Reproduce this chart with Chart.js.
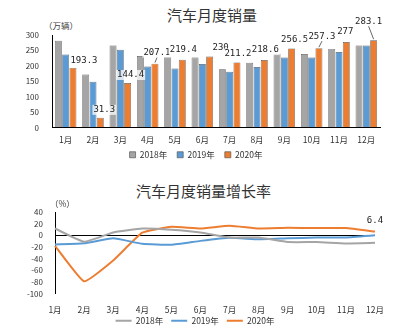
<!DOCTYPE html>
<html>
<head>
<meta charset="utf-8">
<script src="https://cdn.jsdelivr.net/npm/chart.js@4/dist/chart.umd.min.js"></script>
<style>
  html, body { margin: 0; padding: 0; background: #fff; }
  body { width: 397px; height: 335px; position: relative; overflow: hidden;
         font-family: 'Noto Sans CJK SC', sans-serif; color: #333; }
  .box { position: absolute; left: 0; width: 397px; }
  .txt { position: absolute; white-space: nowrap; }
  .title { font-size: 15px; line-height: 18px; }
  .unit { font-size: 8.5px; line-height: 12px; color: #404040; }
</style>
</head>
<body>
<div class="txt title" style="left:167px; top:6px;">汽车月度销量</div>
<div class="txt unit" style="left:44px; top:19px;">（万辆）</div>
<div class="box" style="top:0; height:169px;"><canvas id="sales-chart"></canvas></div>

<div class="txt title" style="left:136px; top:182px;">汽车月度销量增长率</div>
<div class="txt unit" style="left:50px; top:197px;">（%）</div>
<div class="box" style="top:168px; height:167px;"><canvas id="growth-chart"></canvas></div>

<script>
// --- データ ---
const months = ['1月', '2月', '3月', '4月', '5月', '6月', '7月', '8月', '9月', '10月', '11月', '12月'];
const years  = ['2018年', '2019年', '2020年'];

// 月度销量（万辆）
const sales2018 = [281, 172, 266, 232, 229, 227, 189, 210, 239, 238, 255, 266];
const sales2019 = [237, 148, 252, 198, 191, 206, 181, 196, 227, 227, 245, 266];
const sales2020 = [193.3, 31.3, 144.4, 207.1, 219.4, 230, 211.2, 218.6, 256.5, 257.3, 277, 283.1];

// 增长率（%）
const growth2018 = [11.6, -11.1, 4.7, 11.5, 9.6, 4.8, -4.0, -3.8, -11.6, -11.7, -13.9, -13.0];
const growth2019 = [-15.8, -13.8, -5.2, -14.6, -16.4, -9.6, -4.3, -6.9, -5.2, -4.0, -3.6, -0.1];
const growth2020 = [-18.0, -79.1, -43.3, 4.4, 14.5, 11.6, 16.4, 11.6, 12.8, 12.5, 12.6, 6.4];

const salesTicks  = { min: 0, max: 300, step: 50 };
const growthTicks = { min: -100, max: 40, step: 20 };

// --- 見た目 ---
const GRAY = '#A5A5A5', BLUE = '#5B9BD5', ORANGE = '#ED7D31';
const TEXT = '#333';
const FAMILY = "'Noto Sans CJK SC', sans-serif";

Chart.defaults.font.family = FAMILY;
Chart.defaults.font.size = 8.5;
Chart.defaults.color = TEXT;

// 2020年の棒ラベルの位置ずらし（棒の上端中央から）
const barLabelShift = [[11, -7], [4, -8], [3, -8], [2, -11], [1, -10], [11, -9],
                       [1, -9], [1, -10], [3, -9], [3, -12], [-1, -10], [-5, -19]];
const barLabelLeader = [false, false, false, true, false, false, false, false, false, true, false, true];

const valueLabelPlugin = {
    id: 'valueLabels',
    afterDatasetsDraw(chart, args, opts) {
        const meta = chart.getDatasetMeta(opts.datasetIndex);
        const ds = chart.data.datasets[opts.datasetIndex];
        const ctx = chart.ctx;
        ctx.save();
        ctx.font = "9px 'DejaVu Sans Mono', monospace";
        ctx.textAlign = 'center';
        ctx.textBaseline = 'middle';
        meta.data.forEach((el, i) => {
            if (opts.only && !opts.only.includes(i)) return;
            const sh = opts.shift[i] || [0, -10];
            const cx = el.x + sh[0], cy = el.y + sh[1];
            const txt = String(ds.data[i]);
            const w = ctx.measureText(txt).width;
            if (opts.background) {
                ctx.fillStyle = 'rgba(255,255,255,0.75)';
                ctx.fillRect(cx - w / 2 - 1, cy - 5, w + 2, 10);
            }
            if (opts.leader && opts.leader[i]) {
                ctx.strokeStyle = '#404040';
                ctx.lineWidth = 0.8;
                ctx.beginPath();
                ctx.moveTo(cx, cy + 5);
                ctx.lineTo(el.x, el.y - 1);
                ctx.stroke();
            }
            ctx.fillStyle = '#222';
            ctx.fillText(txt, cx, cy);
        });
        ctx.restore();
    }
};

// x軸ラベルがスケール枠でクリップされないようにする
function fixXHeight(h) {
    return s => {
        s.height = h;
        s._computeLabelArea = () => undefined;
    };
}

// --- 月度销量（棒グラフ） ---
function barSet(label, data, color) {
    return {
        label, data,
        backgroundColor: color,
        borderColor: '#595959',
        borderWidth: 0.7,
        barPercentage: 0.95,
        categoryPercentage: 0.8,
    };
}

new Chart(document.getElementById('sales-chart'), {
    type: 'bar',
    data: {
        labels: months,
        datasets: [
            barSet(years[0], sales2018, GRAY),
            barSet(years[1], sales2019, BLUE),
            barSet(years[2], sales2020, ORANGE),
        ]
    },
    plugins: [valueLabelPlugin],
    options: {
        responsive: true,
        maintainAspectRatio: false,
        animation: false,
        layout: { padding: { top: 35, left: 12, right: 17, bottom: 0 } },
        plugins: {
            title: { display: false },
            tooltip: { enabled: false },
            legend: {
                position: 'bottom',
                labels: { boxWidth: 6, boxHeight: 6, padding: 10, color: TEXT, font: { size: 8.5 } }
            },
            valueLabels: { datasetIndex: 2, shift: barLabelShift, leader: barLabelLeader, background: true }
        },
        scales: {
            x: {
                grid: { drawOnChartArea: false, drawTicks: false },
                border: { color: '#000', width: 1 },
                ticks: { padding: 7.5, color: TEXT, font: { size: 8.5 } },
                afterFit: fixXHeight(13)
            },
            y: {
                min: salesTicks.min, max: salesTicks.max,
                grid: { drawOnChartArea: false, drawTicks: false },
                border: { color: '#000', width: 1 },
                ticks: { stepSize: salesTicks.step, autoSkip: false, padding: 13, color: TEXT, font: { size: 8 } },
                afterFit: s => { s.width = 40; }
            }
        }
    }
});

// --- 增长率（折れ線） ---
function lineSet(label, data, color) {
    return {
        label, data,
        borderColor: color,
        backgroundColor: color,
        borderWidth: 2,
        pointRadius: 0,
        pointStyle: 'line',
        tension: 0.12,
        fill: false,
    };
}

new Chart(document.getElementById('growth-chart'), {
    type: 'line',
    data: {
        labels: months,
        datasets: [
            lineSet(years[0], growth2018, GRAY),
            lineSet(years[1], growth2019, BLUE),
            lineSet(years[2], growth2020, ORANGE),
        ]
    },
    plugins: [valueLabelPlugin],
    options: {
        responsive: true,
        maintainAspectRatio: false,
        animation: false,
        layout: { padding: { top: 44, left: 15, right: 22, bottom: 0 } },
        plugins: {
            title: { display: false },
            tooltip: { enabled: false },
            legend: {
                position: 'bottom',
                labels: { usePointStyle: true, pointStyleWidth: 16, boxHeight: 8, padding: 8, color: TEXT, font: { size: 8.5 } }
            },
            valueLabels: { datasetIndex: 2, only: [11], shift: { 11: [0, -11] } }
        },
        scales: {
            x: {
                grid: { display: false, drawTicks: false },
                border: { display: false },
                ticks: { padding: 11.5, color: TEXT, font: { size: 8.5 } },
                afterFit: fixXHeight(15)
            },
            y: {
                min: growthTicks.min, max: growthTicks.max,
                grid: {
                    drawTicks: false,
                    color: c => (c.tick && c.tick.value === 0) ? '#000' : 'rgba(0,0,0,0)',
                    lineWidth: 1
                },
                border: { color: '#000', width: 1 },
                ticks: { stepSize: growthTicks.step, autoSkip: false, padding: 12, color: TEXT, font: { size: 8 } },
                afterFit: s => { s.width = 40; }
            }
        }
    }
});
</script>
</body>
</html>
